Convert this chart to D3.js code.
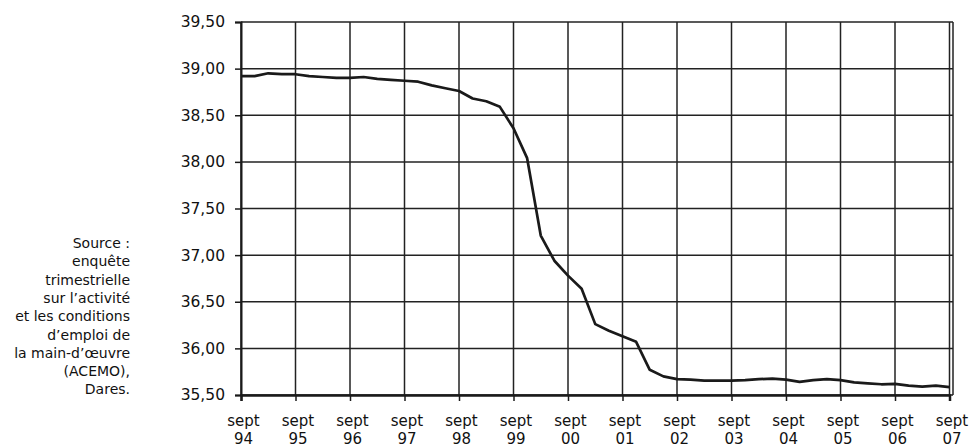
<!DOCTYPE html>
<html>
<head>
<meta charset="utf-8">
<script src="https://cdn.jsdelivr.net/npm/d3@7"></script>
<style>
  body { margin: 0; background: #fff; }
  svg { display: block; font-family: "DejaVu Sans", Verdana, sans-serif; }
</style>
</head>
<body>
<svg width="969" height="448"></svg>
<script>
// quarterly weekly working hours, sept 94 -> sept 07
const hours = [
  38.92, 38.92, 38.95, 38.94, 38.94, 38.92, 38.91, 38.90, 38.90, 38.91,
  38.89, 38.88, 38.87, 38.86, 38.82, 38.79, 38.76, 38.68, 38.65, 38.59,
  38.36, 38.04, 37.21, 36.94, 36.78, 36.64, 36.26, 36.19, 36.13, 36.07,
  35.77, 35.70, 35.67, 35.665, 35.655, 35.655, 35.655, 35.66, 35.67, 35.675,
  35.665, 35.64, 35.66, 35.67, 35.66, 35.635, 35.625, 35.615, 35.62, 35.60,
  35.59, 35.60, 35.585
];
const tickYears = ["94", "95", "96", "97", "98", "99", "00", "01", "02", "03", "04", "05", "06", "07"];
const tickMonth = "sept";
const yTicks = [35.5, 36, 36.5, 37, 37.5, 38, 38.5, 39, 39.5];
const sourceLines = [
  "Source :", "enquête", "trimestrielle", "sur l\u2019activité",
  "et les conditions", "d\u2019emploi de", "la main-d\u2019œuvre", "(ACEMO),", "Dares."
];

(function () {
  const svg = d3.select("svg");
  const pl = 241, pr = 953, pt = 22, pb = 395;

  const x = d3.scaleLinear()
    .domain([0, hours.length - 1])
    .range([pl, 949.5]);

  const y = d3.scaleLinear()
    .domain([35.5, 39.5])
    .range([pb, pt]);

  const fr = d3.formatLocale({ decimal: ",", thousands: " ", grouping: [3], currency: ["", " €"] });
  const fmt = fr.format(".2f");

  // horizontal grid
  svg.append("g")
    .selectAll("line")
    .data(yTicks)
    .join("line")
    .attr("x1", pl).attr("x2", pr)
    .attr("y1", d => y(d)).attr("y2", d => y(d))
    .attr("stroke", "#222")
    .attr("stroke-width", 1.5);

  // vertical grid
  svg.append("g")
    .selectAll("line")
    .data(tickYears)
    .join("line")
    .attr("x1", (d, i) => x(i * 4)).attr("x2", (d, i) => x(i * 4))
    .attr("y1", pt).attr("y2", pb)
    .attr("stroke", "#222")
    .attr("stroke-width", 1.5);

  // right border
  svg.append("line")
    .attr("x1", pr).attr("x2", pr)
    .attr("y1", pt).attr("y2", pb)
    .attr("stroke", "#222")
    .attr("stroke-width", 1.5);

  // Y axis
  const yAxis = svg.append("g")
    .attr("transform", `translate(${pl}, 0)`)
    .call(d3.axisLeft(y).tickValues(yTicks).tickFormat(fmt).tickSize(6).tickPadding(10));
  yAxis.select(".domain").attr("stroke", "#1a1a1a").attr("stroke-width", 2);
  yAxis.selectAll(".tick line").attr("stroke", "#1a1a1a").attr("stroke-width", 1.5);
  yAxis.selectAll("text")
    .style("font-size", "15.5px")
    .style("font-family", "DejaVu Sans, sans-serif")
    .attr("fill", "#111");

  // X axis
  const xAxis = svg.append("g")
    .attr("transform", `translate(0, ${pb})`)
    .call(d3.axisBottom(x).tickValues(tickYears.map((d, i) => i * 4)).tickSize(6).tickFormat(""));
  xAxis.select(".domain").attr("stroke", "#1a1a1a").attr("stroke-width", 2.5);
  xAxis.selectAll(".tick line").attr("stroke", "#1a1a1a").attr("stroke-width", 1.5);

  xAxis.selectAll(".tick text")
    .attr("y", 0).attr("dy", null)
    .style("font-size", "15px")
    .style("font-family", "DejaVu Sans, sans-serif")
    .attr("fill", "#111")
    .each(function (d, i) {
      const t = d3.select(this);
      t.append("tspan").attr("x", 2).attr("y", 31).text(tickMonth);
      t.append("tspan").attr("x", 2).attr("y", 49).text(tickYears[i]);
    });

  // line
  svg.append("path")
    .datum(hours)
    .attr("fill", "none")
    .attr("stroke", "#1a1a1a")
    .attr("stroke-width", 2.7)
    .attr("stroke-linejoin", "round")
    .attr("d", d3.line().x((d, i) => x(i)).y(d => y(d)));

  // source note
  svg.append("text")
    .attr("text-anchor", "end")
    .style("font-size", "14px")
    .attr("fill", "#111")
    .selectAll("tspan")
    .data(sourceLines)
    .join("tspan")
    .attr("x", 130)
    .attr("y", (d, i) => 248 + i * 18.3)
    .text(d => d);
})();
</script>
</body>
</html>
